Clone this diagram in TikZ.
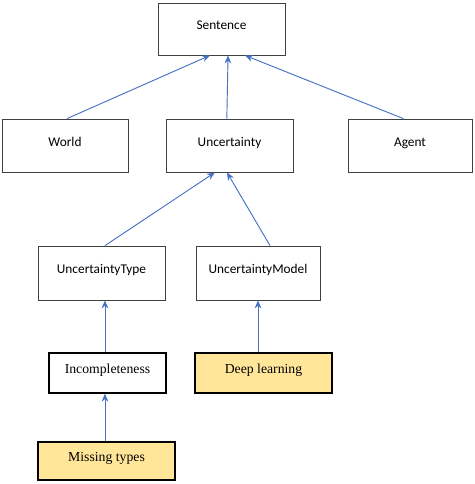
\documentclass[tikz,border=0pt]{standalone}
\usepackage{fontspec}
\setmainfont{Liberation Serif}
\newfontfamily\calibri{Carlito}
\usetikzlibrary{arrows.meta,shadows}
\definecolor{arrowblue}{RGB}{68,114,196}
\definecolor{lightgold}{RGB}{255,230,153}
\tikzset{every picture/.style={line width=0.75pt}}
\tikzset{
  plainbox/.style={draw={rgb,255:red,64;green,64;blue,64}, line width=0.6pt, fill=white, font=\calibri\fontsize{10}{12}\selectfont, inner sep=0pt, text height=7pt, text depth=6pt},
  leafbox/.style={draw=black, line width=1pt, font=\fontsize{10.3}{12}\selectfont, inner sep=0pt, text height=7pt, text depth=7pt,
    drop shadow={shadow xshift=1pt, shadow yshift=-1pt, fill=black!75, opacity=1}},
  uparrow/.style={draw=arrowblue, line width=0.7pt, -{Stealth[length=6pt,width=5pt]}}
}

\begin{document}
\begin{tikzpicture}[x=0.75pt,y=0.75pt,yscale=-1,xscale=1]
%set diagram size to the reference
\useasboundingbox (0,0) rectangle (474,484);

%Top level
\node [plainbox, minimum width=95.25pt, minimum height=39pt] (sentence) at (221.5,29) {Sentence};
%Second level
\node [plainbox, minimum width=94.5pt, minimum height=39.75pt] (world) at (65,145.5) {World};
\node [plainbox, minimum width=95.25pt, minimum height=39.75pt] (uncertainty) at (229.5,145.5) {Uncertainty};
\node [plainbox, minimum width=93pt, minimum height=39.75pt] (agent) at (410,145.5) {Agent};
%Third level
\node [plainbox, minimum width=95.25pt, minimum height=40.5pt] (utype) at (101.5,273) {UncertaintyType};
\node [plainbox, minimum width=93pt, minimum height=40.5pt] (umodel) at (258,273) {UncertaintyModel};
%Fourth level
\node [leafbox, fill=white, minimum width=87.75pt, minimum height=30pt] (incomplete) at (107.5,373) {Incompleteness};
\node [leafbox, fill=lightgold, minimum width=102.75pt, minimum height=30pt] (deeplearning) at (263.5,373) {Deep learning};
%Fifth level
\node [leafbox, fill=lightgold, minimum width=102.75pt, minimum height=28.5pt] (missing) at (106.5,461) {Missing types};

%Connectors
\draw [uparrow] ([xshift=1.5pt]world.north) -- ([xshift=-8.6pt]sentence.south);
\draw [uparrow] ([xshift=-2pt]uncertainty.north) -- ([xshift=4.9pt]sentence.south);
\draw [uparrow] ([xshift=-5pt]agent.north) -- ([xshift=17.6pt]sentence.south);
\draw [uparrow] ([xshift=2.6pt]utype.north) -- ([xshift=-10.9pt]uncertainty.south);
\draw [uparrow] ([xshift=9pt]umodel.north) -- ([xshift=-1.9pt]uncertainty.south);
\draw [uparrow] ([xshift=2.6pt]utype.south |- incomplete.north) -- ([xshift=2.6pt]utype.south);
\draw [uparrow] (umodel.south |- deeplearning.north) -- (umodel.south);
\draw [uparrow] ([xshift=-1.9pt]incomplete.south |- missing.north) -- ([xshift=-1.9pt]incomplete.south);

\end{tikzpicture}
\end{document}
